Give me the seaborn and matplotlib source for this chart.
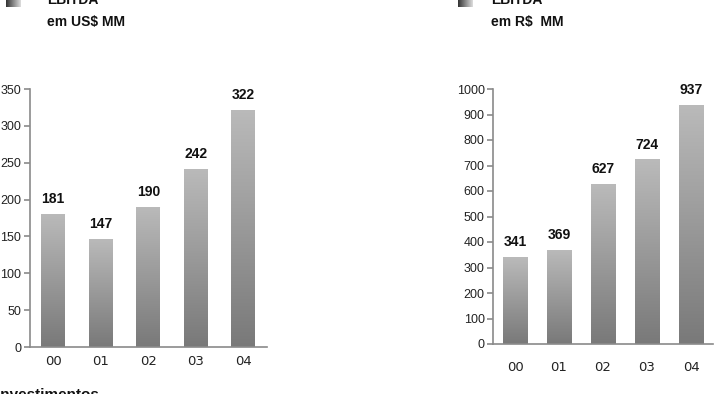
import numpy as np
import pandas as pd
import matplotlib
matplotlib.use("Agg")
import matplotlib.pyplot as plt
import seaborn as sns

# EBITDA by year
years = ["00", "01", "02", "03", "04"]
ebitda_usd = [181, 147, 190, 242, 322]
ebitda_brl = [341, 369, 627, 724, 937]

usd_ticks = [0, 50, 100, 150, 200, 250, 300, 350]
brl_ticks = [0, 100, 200, 300, 400, 500, 600, 700, 800, 900, 1000]

sns.set_theme(style="white")
plt.rcParams["font.family"] = ["DejaVu Sans"]

W, H = 717, 394
fig = plt.figure(figsize=(W / 100, H / 100), dpi=100)
fig.patch.set_facecolor("white")

def px_axes(x0, y0, x1, y1):
    return fig.add_axes([x0 / W, 1 - y1 / H, (x1 - x0) / W, (y1 - y0) / H])

ax_usd = px_axes(29.5, 89, 267, 347)
ax_brl = px_axes(493, 89, 713, 344)

grad = np.linspace(0, 1, 256).reshape(-1, 1)
gray_cmap = matplotlib.colors.LinearSegmentedColormap.from_list(
    "bar_gray", ["#797979", "#bababa"])

def draw_panel(ax, values, ticks, width, xpad):
    df = pd.DataFrame({"ano": years, "valor": values})
    sns.barplot(data=df, x="ano", y="valor", ax=ax, color="#999999",
                width=width, saturation=1, errorbar=None)
    ymax = ticks[-1]
    for patch, v in zip(ax.patches, values):
        x0 = patch.get_x()
        w = patch.get_width()
        h = patch.get_height()
        im = ax.imshow(grad, cmap=gray_cmap, aspect="auto", origin="lower",
                       extent=[x0, x0 + w, 0, h], zorder=patch.get_zorder() + 0.1)
        im.set_clip_path(patch)
        ax.text(x0 + w / 2, h + ymax * 0.03, f"{v}", ha="center", va="bottom",
                fontsize=10, fontweight="bold", color="#111111",
                family="Liberation Sans")
    ax.set_xlim(-0.5, len(years) - 0.5)
    ax.set_ylim(0, ymax)
    ax.set_yticks(ticks)
    ax.set_yticklabels([str(t) for t in ticks], fontsize=9,
                       family="Liberation Sans", color="#222222")
    ax.set_xlabel("")
    ax.set_ylabel("")
    ax.tick_params(axis="x", which="major", length=0, pad=xpad,
                   labelsize=9.5, labelcolor="#222222")
    ax.set_xticks(np.arange(-0.5, len(years)), minor=True)
    ax.tick_params(axis="x", which="minor", length=5, width=1.2,
                   color="#8a8a8a", direction="out")
    ax.tick_params(axis="y", length=4, width=1.2, color="#8a8a8a",
                   direction="out", pad=2, left=True)
    for side in ("top", "right"):
        ax.spines[side].set_visible(False)
    for side in ("left", "bottom"):
        ax.spines[side].set_color("#8a8a8a")
        ax.spines[side].set_linewidth(1.2)
    ax.set_facecolor("white")

draw_panel(ax_usd, ebitda_usd, usd_ticks, 0.5, 6)
draw_panel(ax_brl, ebitda_brl, brl_ticks, 0.55, 12.5)

# small gradient legend squares next to the titles
for x0 in (6, 458):
    sq = fig.add_axes([x0 / W, 1 - 7 / H, 15 / W, 9 / H])
    sq.imshow(np.linspace(0, 1, 64).reshape(1, -1),
              cmap=matplotlib.colors.LinearSegmentedColormap.from_list(
                  "sq", ["#333333", "#dddddd"]), aspect="auto")
    sq.axis("off")

title_kw = dict(fontsize=10, fontweight="bold", color="#111111",
                family="Liberation Sans", va="baseline")
fig.text(47 / W, 1 - 4 / H, "EBITDA", **title_kw)
fig.text(47 / W, 1 - 26 / H, "em US$ MM", **title_kw)
fig.text(491 / W, 1 - 4 / H, "EBITDA", **title_kw)
fig.text(491 / W, 1 - 26 / H, "em R$  MM", **title_kw)
fig.text(-4 / W, 1 - 399 / H, "Investimentos", fontsize=11, fontweight="bold",
         color="#111111", family="Liberation Sans", va="baseline")

fig.savefig("out.png", dpi=100, facecolor="white")
